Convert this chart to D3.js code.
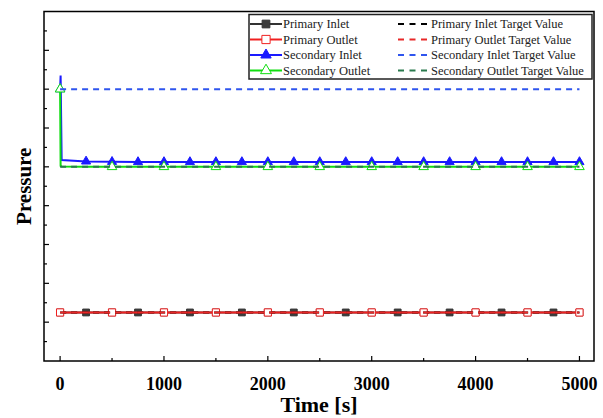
<!DOCTYPE html>
<html>
<head>
<meta charset="utf-8">
<script src="https://cdn.jsdelivr.net/npm/d3@7"></script>
<style>
  body { margin: 0; background: #fff; }
  svg { display: block; }
</style>
</head>
<body>
<div id="chart"></div>
<script>
// Time points [s]
const times = [0, 5, 15, 250, 500, 750, 1000, 1250, 1500, 1750, 2000, 2250, 2500,
    2750, 3000, 3250, 3500, 3750, 4000, 4250, 4500, 4750, 5000];

// Series values (arbitrary pressure units, no y labels in the original)
const primaryInlet = [2.5, 2.5, 2.5, 2.5, 2.5, 2.5, 2.5, 2.5, 2.5, 2.5, 2.5, 2.5, 2.5,
    2.5, 2.5, 2.5, 2.5, 2.5, 2.5, 2.5, 2.5, 2.5, 2.5];
const primaryOutlet = [2.5, 2.5, 2.5, 2.5, 2.5, 2.5, 2.5, 2.5, 2.5, 2.5, 2.5, 2.5, 2.5,
    2.5, 2.5, 2.5, 2.5, 2.5, 2.5, 2.5, 2.5, 2.5, 2.5];
const secondaryInlet = [14.0, 14.7, 10.35, 10.28, 10.26, 10.25, 10.25, 10.25, 10.25, 10.25, 10.25, 10.25, 10.25,
    10.25, 10.25, 10.25, 10.25, 10.25, 10.25, 10.25, 10.25, 10.25, 10.25];
const secondaryOutlet = [14.0, 10.05, 10.02, 10.0, 10.0, 10.0, 10.0, 10.0, 10.0, 10.0, 10.0, 10.0, 10.0,
    10.0, 10.0, 10.0, 10.0, 10.0, 10.0, 10.0, 10.0, 10.0, 10.0];

// Target values
const targetTimes = [0, 5000];
const primaryInletTarget = [2.5, 2.5];
const primaryOutletTarget = [2.5, 2.5];
const secondaryInletTarget = [14.0, 14.0];
const secondaryOutletTarget = [10.0, 10.0];

const xTicks = [0, 1000, 2000, 3000, 4000, 5000];
const xMinorTicks = [500, 1500, 2500, 3500, 4500];

const W = 603, H = 418;
const margin = { top: 11.5, right: 9, bottom: 57, left: 44 };
const width = W - margin.left - margin.right;
const height = H - margin.top - margin.bottom;

const svg = d3.select("#chart").append("svg")
    .attr("width", W).attr("height", H);
const g = svg.append("g").attr("transform", `translate(${margin.left},${margin.top})`);

const x = d3.scaleLinear().domain([-155, 5140]).range([0, width]);
const y = d3.scaleLinear().domain([0, 18]).range([height, 0]);

// Series definitions
const series = [
    { name: "Primary Inlet", values: primaryInlet, color: "#333333", symbol: d3.symbolSquare, size: 46, fill: "#3c3c3c", every: 250 },
    { name: "Primary Outlet", values: primaryOutlet, color: "#f02020", symbol: d3.symbolSquare, size: 52, fill: "#fff", every: 500 },
    { name: "Secondary Inlet", values: secondaryInlet, color: "#1a1aff", symbol: d3.symbolTriangle, size: 36, fill: "#1a1aff", every: 250 },
    { name: "Secondary Outlet", values: secondaryOutlet, color: "#10dd10", symbol: d3.symbolTriangle, size: 40, fill: "#fff", every: 500 }
];
const targets = [
    { name: "Primary Inlet Target Value", values: primaryInletTarget, color: "#000000" },
    { name: "Primary Outlet Target Value", values: primaryOutletTarget, color: "#e82828" },
    { name: "Secondary Inlet Target Value", values: secondaryInletTarget, color: "#2f55ee" },
    { name: "Secondary Outlet Target Value", values: secondaryOutletTarget, color: "#2a7a4e" }
];

const line = d3.line().x(d => x(d[0])).y(d => y(d[1]));

series.forEach(s => {
    const pts = times.map((t, i) => [t, s.values[i]]);
    g.append("path")
        .datum(pts)
        .attr("fill", "none")
        .attr("stroke", s.color)
        .attr("stroke-width", 2)
        .attr("d", line);
    g.selectAll(null)
        .data(pts.filter(p => p[0] % s.every === 0))
        .enter()
        .append("path")
        .attr("d", d3.symbol().type(s.symbol).size(s.size))
        .attr("transform", p => `translate(${x(p[0])},${y(p[1])})`)
        .attr("fill", s.fill)
        .attr("stroke", s.color)
        .attr("stroke-width", 1);
});

targets.forEach(tg => {
    g.append("path")
        .datum(targetTimes.map((t, i) => [t, tg.values[i]]))
        .attr("fill", "none")
        .attr("stroke", tg.color)
        .attr("stroke-width", 2)
        .attr("stroke-dasharray", "6,5")
        .attr("d", line);
});

// Frame
g.append("rect")
    .attr("x", 0).attr("y", 0)
    .attr("width", width).attr("height", height)
    .attr("fill", "none")
    .attr("stroke", "#000")
    .attr("stroke-width", 1.5);

// X ticks (inward)
g.selectAll(".xt").data(xTicks).enter().append("line")
    .attr("x1", d => x(d)).attr("x2", d => x(d))
    .attr("y1", height).attr("y2", height - 5)
    .attr("stroke", "#000").attr("stroke-width", 1.2);
g.selectAll(".xmt").data(xMinorTicks).enter().append("line")
    .attr("x1", d => x(d)).attr("x2", d => x(d))
    .attr("y1", height).attr("y2", height - 3)
    .attr("stroke", "#000").attr("stroke-width", 1.2);
g.selectAll(".xl").data(xTicks).enter().append("text")
    .attr("x", d => x(d))
    .attr("y", height + 29)
    .attr("text-anchor", "middle")
    .attr("font-family", "'Liberation Serif', 'Times New Roman', serif")
    .attr("font-weight", "bold")
    .attr("font-size", "18px")
    .text(d => d);

// Y ticks (inward, no labels)
const yTicks = d3.range(1, 18);
g.selectAll(".yt").data(yTicks).enter().append("line")
    .attr("x1", 0).attr("x2", d => d % 2 === 0 ? 5 : 3)
    .attr("y1", d => y(d)).attr("y2", d => y(d))
    .attr("stroke", "#000").attr("stroke-width", 1.2);

// Axis titles
svg.append("text")
    .attr("x", margin.left + width / 2)
    .attr("y", 412)
    .attr("text-anchor", "middle")
    .attr("font-family", "'Liberation Serif', 'Times New Roman', serif")
    .attr("font-weight", "bold")
    .attr("font-size", "22px")
    .text("Time [s]");
svg.append("text")
    .attr("transform", `translate(31,${margin.top + height / 2}) rotate(-90)`)
    .attr("text-anchor", "middle")
    .attr("font-family", "'Liberation Serif', 'Times New Roman', serif")
    .attr("font-weight", "bold")
    .attr("font-size", "21px")
    .text("Pressure");

// Legend
const legend = svg.append("g");
legend.append("rect")
    .attr("x", 249).attr("y", 14.5)
    .attr("width", 343).attr("height", 64.5)
    .attr("fill", "#fff")
    .attr("stroke", "#222")
    .attr("stroke-width", 1.5);
const rowY = [24, 39.5, 55, 70.5];
series.forEach((s, i) => {
    legend.append("line")
        .attr("x1", 250).attr("x2", 282)
        .attr("y1", rowY[i]).attr("y2", rowY[i])
        .attr("stroke", s.color).attr("stroke-width", 2);
    legend.append("path")
        .attr("d", d3.symbol().type(s.symbol).size(s.size * 1.3))
        .attr("transform", `translate(266,${rowY[i]})`)
        .attr("fill", s.fill)
        .attr("stroke", s.color)
        .attr("stroke-width", 1);
    legend.append("text")
        .attr("x", 283).attr("y", rowY[i])
        .attr("dy", "0.35em")
        .attr("font-family", "'Liberation Serif', 'Times New Roman', serif")
        .attr("font-size", "12.5px")
        .attr("fill", "#222")
        .text(s.name);
});
targets.forEach((tg, i) => {
    legend.append("line")
        .attr("x1", 398).attr("x2", 431)
        .attr("y1", rowY[i]).attr("y2", rowY[i])
        .attr("stroke", tg.color).attr("stroke-width", 2)
        .attr("stroke-dasharray", "6,5.5");
    legend.append("text")
        .attr("x", 431).attr("y", rowY[i])
        .attr("dy", "0.35em")
        .attr("font-family", "'Liberation Serif', 'Times New Roman', serif")
        .attr("font-size", "12.5px")
        .attr("fill", "#222")
        .text(tg.name);
});
</script>
</body>
</html>
